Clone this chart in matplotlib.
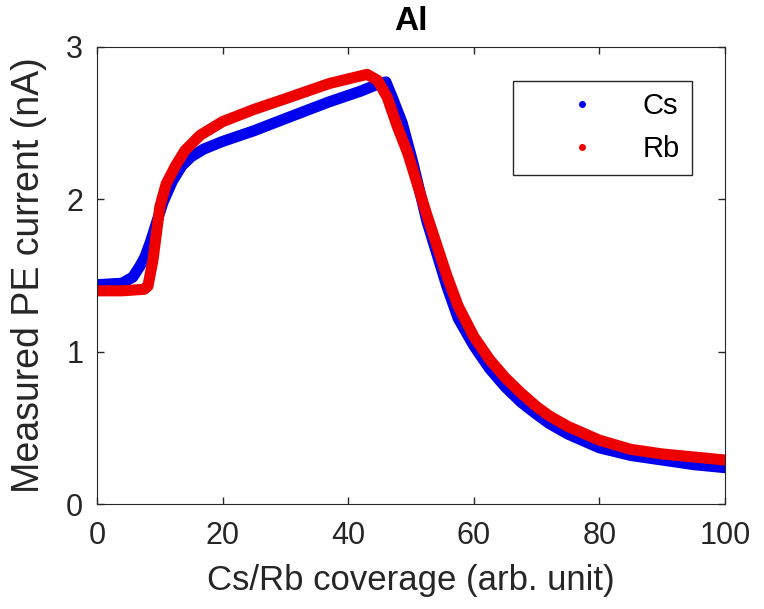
import matplotlib.pyplot as plt

plt.rcParams['font.family'] = ['Liberation Sans', 'DejaVu Sans']

# --- Data ---
cs_x = [0, 4, 5.7, 6.8, 7.6, 8.5, 9.5, 10.5, 12, 13.5, 15, 17, 20, 25, 30, 37,
        42, 45, 46, 47, 48.6, 50.3, 52.5, 55.7, 57.5, 60, 62.5, 65, 67.5, 70,
        72, 75, 80, 85, 90, 95, 100]
cs_y = [1.44, 1.45, 1.49, 1.56, 1.62, 1.72, 1.85, 1.98, 2.12, 2.22, 2.28, 2.33,
        2.38, 2.45, 2.53, 2.64, 2.71, 2.76, 2.77, 2.67, 2.50, 2.24, 1.86, 1.43,
        1.22, 1.04, 0.89, 0.77, 0.67, 0.59, 0.53, 0.46, 0.37, 0.32, 0.29, 0.26,
        0.24]

rb_x = [0, 4, 7.5, 8.1, 8.9, 10, 11, 12.5, 14, 16.4, 20, 25, 30, 37, 43, 44.7,
        46.2, 47.8, 49.5, 52.5, 55.7, 57.5, 60, 62.5, 65, 67.5, 70, 72, 75, 80,
        85, 90, 95, 100]
rb_y = [1.40, 1.40, 1.41, 1.43, 1.60, 1.95, 2.10, 2.22, 2.32, 2.42, 2.51, 2.59,
        2.66, 2.76, 2.82, 2.78, 2.67, 2.48, 2.30, 1.90, 1.50, 1.30, 1.10, 0.95,
        0.83, 0.73, 0.64, 0.58, 0.51, 0.42, 0.36, 0.33, 0.31, 0.29]

axis_col = '#262626'

fig = plt.figure(figsize=(7.64, 6.09), dpi=100)
ax = fig.add_axes([0.127, 0.172, 0.822, 0.751])

ax.plot(cs_x, cs_y, color='#0000ee', lw=8, label='Cs',
        solid_capstyle='round', solid_joinstyle='round')
ax.plot(rb_x, rb_y, color='#ee0000', lw=8, label='Rb',
        solid_capstyle='round', solid_joinstyle='round')

ax.set_xlim(0, 100)
ax.set_ylim(0, 3)
ax.set_xticks([0, 20, 40, 60, 80, 100])
ax.set_yticks([0, 1, 2, 3])
ax.tick_params(direction='in', top=True, right=True, labelsize=22,
               colors=axis_col, length=5, width=1)
ax.tick_params(axis='x', pad=12)
ax.tick_params(axis='y', pad=10)
for s in ax.spines.values():
    s.set_color(axis_col)
ax.set_xlabel('Cs/Rb coverage (arb. unit)', fontsize=25, color=axis_col)
ax.set_ylabel('Measured PE current (nA)', fontsize=27, color=axis_col)
ax.xaxis.set_label_coords(0.5, -0.13)
ax.yaxis.set_label_coords(-0.08, 0.5)
ax.set_title('Al', fontsize=24, fontweight='bold', pad=12)

# legend with small dot markers only
h1, = ax.plot([], [], ls='none', marker='.', ms=8, color='#0000ee')
h2, = ax.plot([], [], ls='none', marker='.', ms=8, color='#ee0000')
leg = ax.legend([h1, h2], ['Cs', 'Rb'], loc='upper right',
                bbox_to_anchor=(0.947, 0.926), fontsize=21, fancybox=False,
                edgecolor=axis_col, framealpha=1, handlelength=3.9,
                handletextpad=0.14, borderpad=0.4, labelspacing=0.5,
                borderaxespad=0)
leg.get_frame().set_linewidth(1)

plt.savefig('out.png', dpi=100)
